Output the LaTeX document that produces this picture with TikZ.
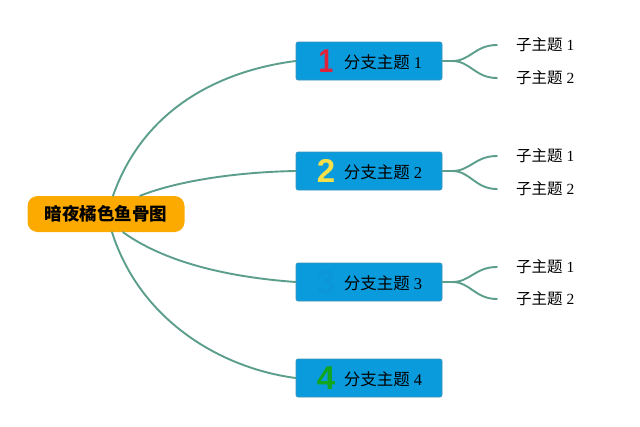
\documentclass[tikz,border=0pt]{standalone}
\usepackage{fontspec}
\setmainfont{Liberation Serif}
\newfontfamily\cjk{Noto Sans CJK SC}
\newfontfamily\numfont{Liberation Sans}
\definecolor{boxblue}{HTML}{0A9BDC}
\definecolor{boxedge}{HTML}{3C93B8}
\definecolor{orng}{HTML}{FDAA00}
\definecolor{conncol}{HTML}{5C9E8C}
\definecolor{nred}{HTML}{E0213A}
\definecolor{nyel}{HTML}{F5E04A}
\definecolor{ngrn}{HTML}{12A51E}
\definecolor{nblu}{HTML}{0C96D8}
\begin{document}
\begin{tikzpicture}[x=1pt,y=-1pt,
  central/.style={rounded corners=10pt, fill=orng, minimum width=157pt, minimum height=36pt, inner sep=0pt,
    font=\fontsize{17.5}{17.5}\selectfont\cjk\bfseries},
  branch/.style={draw=boxedge, line width=0.6pt, fill=boxblue, rounded corners=2pt, minimum width=146pt, minimum height=38pt, inner sep=0pt},
  btext/.style={inner sep=0pt, font=\fontsize{16.5}{16.5}\selectfont},
  numicon/.style={inner sep=0pt, font=\fontsize{33}{33}\selectfont\numfont\bfseries},
  sub/.style={anchor=west, inner xsep=19pt, inner ysep=0pt, font=\fontsize{15.5}{15.5}\selectfont},
  conn/.style={draw=conncol, line width=1.9pt, line cap=round}]
\useasboundingbox[fill=white] (0,0) rectangle (640,426);

% central node
\node[central] (c) at (106,214) {暗夜橘色鱼骨图};

% branch boxes
\node[branch] (b1) at (369,61) {};
\node[branch] (b2) at (369,171) {};
\node[branch] (b3) at (369,282) {};
\node[branch] (b4) at (369,378) {};

\node[numicon, text=nred, xscale=0.8] (n1) at (326,61) {1};
\node[numicon, text=nyel] (n2) at (326,171) {2};
\node[numicon, text=nblu] (n3) at (326,282) {3};
\node[numicon, text=ngrn] (n4) at (326,378) {4};

\node[btext] (t1) at (383,62) {{\cjk 分支主题} 1};
\node[btext] (t2) at (383,172) {{\cjk 分支主题} 2};
\node[btext] (t3) at (383,283) {{\cjk 分支主题} 3};
\node[btext] (t4) at (383,379) {{\cjk 分支主题} 4};

% sub topics
\node[sub] (s11) at (497,45) {{\cjk 子主题} 1};
\node[sub] (s12) at (497,78) {{\cjk 子主题} 2};
\node[sub] (s21) at (497,156) {{\cjk 子主题} 1};
\node[sub] (s22) at (497,189) {{\cjk 子主题} 2};
\node[sub] (s31) at (497,267) {{\cjk 子主题} 1};
\node[sub] (s32) at (497,299) {{\cjk 子主题} 2};

% main connectors
\draw[conn] ([xshift=7pt]c.north) .. controls (145,105) and (225,70) .. (b1.west);
\draw[conn] ([xshift=34pt]c.north) .. controls (180,180) and (240,172) .. (b2.west);
\draw[conn] ([xshift=17pt]c.south) .. controls (170,266) and (240,278) .. (b3.west);
\draw[conn] ([xshift=6pt]c.south) .. controls (140,320) and (220,368) .. (b4.west);

% sub connectors
\foreach \b/\u/\l in {b1/s11/s12, b2/s21/s22, b3/s31/s32}{
  \draw[conn] (\b.east) -- ++(10,0) .. controls +(18,0) and +(-22,0) .. (\u.west);
  \draw[conn] (\b.east) -- ++(10,0) .. controls +(18,0) and +(-22,0) .. (\l.west);
}
\end{tikzpicture}
\end{document}
